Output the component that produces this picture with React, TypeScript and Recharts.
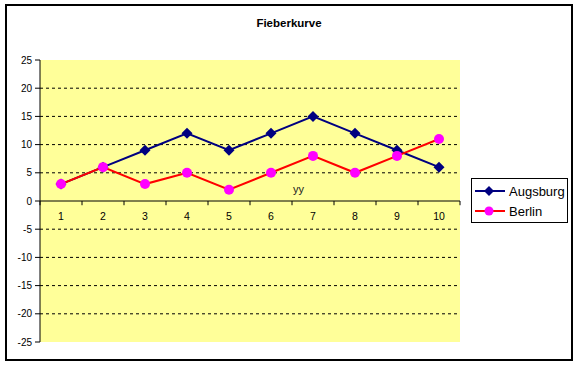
import { LineChart, Line, XAxis, YAxis, ReferenceLine, ReferenceArea, LabelList, Legend } from 'recharts';

const CATEGORIES = ['1', '2', '3', '4', '5', '6', '7', '8', '9', '10'];
const AUGSBURG = [3, 6, 9, 12, 9, 12, 15, 12, 9, 6];
const BERLIN = [3, 6, 3, 5, 2, 5, 8, 5, 8, 11];
const Y_TICKS = [-25, -20, -15, -10, -5, 0, 5, 10, 15, 20, 25];
const GRID_VALUES = [20, 15, 10, 5, -5, -10, -15, -20];
const BAND_EDGES = [0.5, 1.5, 2.5, 3.5, 4.5, 5.5, 6.5, 7.5, 8.5, 9.5, 10.5];

const FONT = '"Liberation Sans", Arial, sans-serif';
const AUGSBURG_COLOR = '#000080';
const BERLIN_LINE = '#ff0000';
const BERLIN_MARKER = '#ff00ff';
const PLOT_BG = '#ffff99';

const data = CATEGORIES.map((cat, i) => ({
  pos: i + 1,
  cat,
  augsburg: AUGSBURG[i],
  berlin: BERLIN[i],
  zero: 0,
}));

function Diamond(props: any) {
  const { cx, cy } = props;
  if (cx == null || cy == null) return null;
  const s = 5.5;
  return (
    <polygon
      points={`${cx},${cy - s} ${cx + s},${cy} ${cx},${cy + s} ${cx - s},${cy}`}
      fill={AUGSBURG_COLOR}
    />
  );
}

function Dot(props: any) {
  const { cx, cy } = props;
  if (cx == null || cy == null) return null;
  return <circle cx={cx} cy={cy} r={5} fill={BERLIN_MARKER} />;
}

function LegendBox() {
  const rows = [
    { name: 'Augsburg', line: AUGSBURG_COLOR, marker: 'diamond' },
    { name: 'Berlin', line: BERLIN_LINE, marker: 'circle' },
  ];
  return (
    <div
      style={{
        boxSizing: 'border-box', width: 97, height: 45, border: '1px solid #000',
        background: '#fff', padding: '2px 0 0 3px', fontFamily: FONT, fontSize: 13,
      }}
    >
      {rows.map(r => (
        <div key={r.name} style={{ display: 'flex', alignItems: 'center', height: 20 }}>
          <svg width={31} height={14} style={{ marginRight: 3 }}>
            <line x1={0} y1={7} x2={30} y2={7} stroke={r.line} strokeWidth={2} />
            {r.marker === 'diamond' ? (
              <polygon points="14,2 19,7 14,12 9,7" fill={AUGSBURG_COLOR} />
            ) : (
              <circle cx={14} cy={7} r={4.5} fill={BERLIN_MARKER} />
            )}
          </svg>
          <span>{r.name}</span>
        </div>
      ))}
    </div>
  );
}

export default function App() {
  return (
    <div style={{ position: 'absolute', left: 0, top: 0, width: 578, height: 366, background: '#fff' }}>
      <div
        style={{
          position: 'absolute', left: 5, top: 4, width: 568, height: 357,
          boxSizing: 'border-box', border: '2px solid #000',
        }}
      />
      <div
        style={{
          position: 'absolute', left: 0, top: 17, width: 578, textAlign: 'center',
          fontFamily: FONT, fontSize: 11.5, fontWeight: 'bold',
        }}
      >
        Fieberkurve
      </div>
      <div style={{ position: 'absolute', left: 0, top: 0 }}>
        <LineChart width={578} height={366} data={data} margin={{ top: 60, right: 118, bottom: 24, left: 5 }}>
          <XAxis type="number" dataKey="pos" domain={[0.5, 10.5]} hide />
          <YAxis
            domain={[-25, 25]}
            ticks={Y_TICKS}
            interval={0}
            width={35}
            tickSize={5}
            tickMargin={3}
            tick={{ fontSize: 10, fill: '#000', fontFamily: FONT }}
            axisLine={{ stroke: '#000' }}
            tickLine={{ stroke: '#000' }}
          />
          <ReferenceArea x1={0.5} x2={10.5} y1={-25} y2={25} fill={PLOT_BG} fillOpacity={1} stroke="none" />
          {GRID_VALUES.map(v => (
            <ReferenceLine key={v} y={v} stroke="#000" strokeDasharray="3 3" />
          ))}
          <ReferenceLine y={0} stroke="#000" />
          {BAND_EDGES.map(e => (
            <ReferenceLine key={`t${e}`} segment={[{ x: e, y: 0 }, { x: e, y: -0.75 }]} stroke="#000" />
          ))}
          <Line dataKey="zero" stroke="none" dot={false} legendType="none" isAnimationActive={false}>
            <LabelList dataKey="cat" position="bottom" offset={12} fontSize={10.5} fill="#000" fontFamily={FONT} />
          </Line>
          <Line
            dataKey="augsburg"
            stroke={AUGSBURG_COLOR}
            strokeWidth={2}
            dot={<Diamond />}
            isAnimationActive={false}
          />
          <Line
            dataKey="berlin"
            stroke={BERLIN_LINE}
            strokeWidth={2}
            dot={<Dot />}
            isAnimationActive={false}
          />
          <Legend
            layout="horizontal"
            verticalAlign="middle"
            align="center"
            wrapperStyle={{ left: 471, top: 178, width: 97, height: 45 }}
            content={() => <LegendBox />}
          />
        </LineChart>
      </div>
      <div style={{ position: 'absolute', left: 293, top: 183, fontFamily: FONT, fontSize: 11, color: '#222' }}>
        yy
      </div>
    </div>
  );
}
